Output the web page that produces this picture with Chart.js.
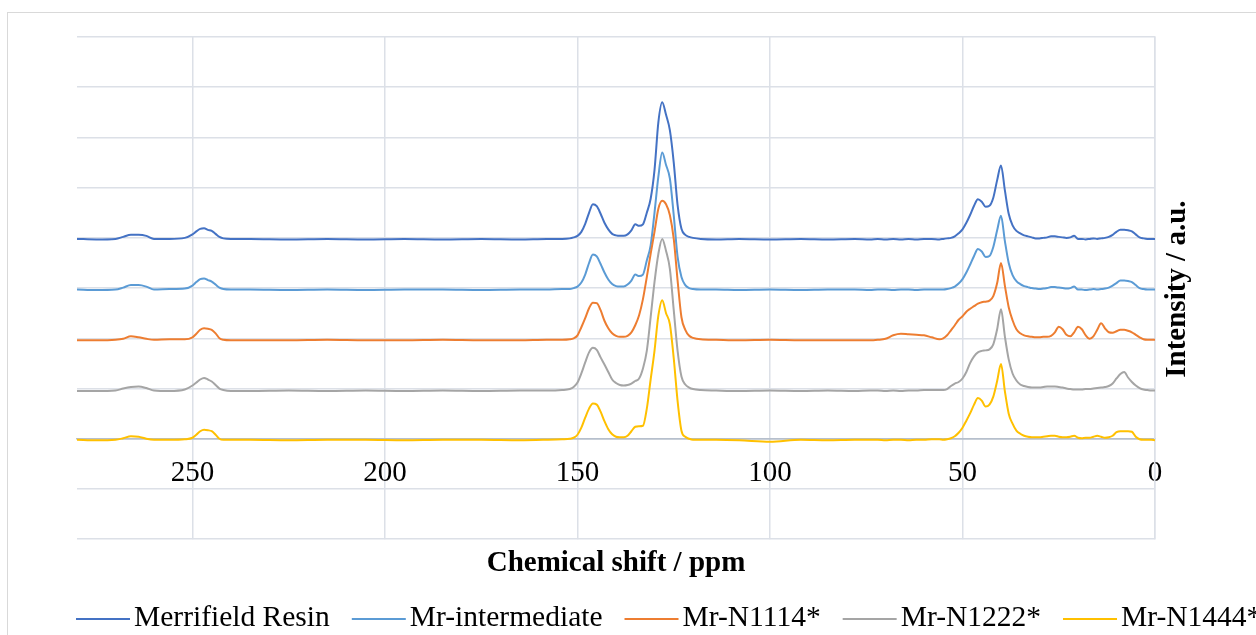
<!DOCTYPE html>
<html>
<head>
<meta charset="utf-8">
<script src="https://cdn.jsdelivr.net/npm/chart.js@4.4.0/dist/chart.umd.min.js"></script>
<style>
  body { margin: 0; background: #fff; }
  canvas { display: block; }
</style>
</head>
<body>
<canvas id="nmrChart" width="1256" height="635"></canvas>
<script>
// chemical shift grid (ppm), shared by all five spectra
const shifts = [
  280, 275, 270, 268, 266, 264, 262, 260, 256, 252, 250, 249, 248, 247, 246, 245, 244, 243, 242, 240,
  235, 225, 215, 205, 195, 185, 175, 165, 158, 154,
  152, 151, 150, 149, 148, 147, 146, 145, 144, 143, 142, 141, 140, 139, 138, 137, 136, 135, 134, 133,
  132, 131, 130, 129, 128, 127, 126, 125, 124, 123, 122, 121, 120, 118,
  114, 108, 100, 92, 85, 78, 74, 72, 70, 68, 66, 64, 62, 60, 58, 56,
  55, 54, 53, 52, 51, 50, 49, 48, 47, 46, 45, 44, 43, 42, 41, 40, 39, 38, 37, 36,
  35, 34, 33, 32, 31, 30, 29, 28, 27, 26, 25, 24, 23, 22, 21, 20, 19, 18, 17, 16,
  15, 14, 13, 12, 11, 10, 9, 8, 7, 6, 5, 4, 3, 2, 1, 0
];

const merrifieldResin = [
  3.98, 3.97, 3.98, 4.02, 4.06, 4.06, 4.04, 3.98, 3.98, 4.00, 4.07, 4.13, 4.18, 4.19, 4.16, 4.14, 4.08, 4.02, 3.99, 3.98,
  3.98, 3.97, 3.98, 3.97, 3.98, 3.97, 3.98, 3.97, 3.98, 3.98,
  3.99, 4.01, 4.04, 4.12, 4.28, 4.50, 4.67, 4.63, 4.48, 4.30, 4.17, 4.08, 4.05, 4.04, 4.04, 4.07, 4.15, 4.27, 4.24, 4.27,
  4.50, 4.78, 5.35, 6.30, 6.70, 6.45, 6.14, 5.50, 4.65, 4.18, 4.06, 4.02, 4.00, 3.98,
  3.97, 3.98, 3.97, 3.98, 3.97, 3.98, 3.97, 3.98, 3.97, 3.98, 3.97, 3.98, 3.97, 3.98, 3.98, 3.97,
  3.98, 3.99, 4.00, 4.03, 4.09, 4.17, 4.30, 4.46, 4.64, 4.77, 4.72, 4.62, 4.64, 4.80, 5.15, 5.44, 4.95, 4.48, 4.25, 4.14,
  4.09, 4.05, 4.03, 4.01, 3.99, 3.99, 4.00, 4.01, 4.03, 4.03, 4.02, 4.01, 4.00, 4.01, 4.04, 3.98, 3.98, 3.97, 3.98, 3.99,
  3.98, 3.99, 4.00, 4.02, 4.06, 4.12, 4.16, 4.16, 4.15, 4.13, 4.07, 4.01, 3.99, 3.98, 3.98, 3.98
];

const mrIntermediate = [
  2.97, 2.96, 2.97, 3.01, 3.06, 3.06, 3.03, 2.97, 2.98, 2.99, 3.05, 3.12, 3.18, 3.19, 3.16, 3.13, 3.07, 3.01, 2.98, 2.97,
  2.97, 2.96, 2.97, 2.96, 2.97, 2.97, 2.96, 2.97, 2.97, 2.98,
  2.98, 3.00, 3.03, 3.11, 3.27, 3.50, 3.67, 3.63, 3.48, 3.31, 3.17, 3.08, 3.04, 3.03, 3.03, 3.07, 3.15, 3.27, 3.24, 3.27,
  3.55, 3.85, 4.50, 5.22, 5.70, 5.45, 5.18, 4.45, 3.62, 3.22, 3.06, 3.00, 2.98, 2.97,
  2.97, 2.96, 2.97, 2.96, 2.97, 2.97, 2.96, 2.97, 2.97, 2.96, 2.97, 2.97, 2.96, 2.97, 2.97, 2.97,
  2.97, 2.98, 3.00, 3.03, 3.09, 3.18, 3.31, 3.47, 3.64, 3.78, 3.73, 3.62, 3.64, 3.82, 4.15, 4.44, 3.94, 3.50, 3.26, 3.14,
  3.08, 3.04, 3.02, 3.00, 2.99, 2.98, 2.99, 3.00, 3.02, 3.02, 3.01, 3.00, 2.99, 3.00, 3.03, 2.97, 2.97, 2.96, 2.97, 2.98,
  2.97, 2.98, 2.99, 3.01, 3.05, 3.10, 3.15, 3.15, 3.14, 3.12, 3.06, 3.00, 2.98, 2.97, 2.97, 2.97
];

const mrN1114 = [
  1.96, 1.96, 1.97, 1.99, 2.04, 2.02, 1.99, 1.97, 1.98, 1.98, 2.02, 2.09, 2.17, 2.20, 2.19, 2.17, 2.10, 2.00, 1.97, 1.96,
  1.96, 1.96, 1.97, 1.96, 1.96, 1.97, 1.96, 1.96, 1.97, 1.97,
  1.98, 2.00, 2.06, 2.22, 2.40, 2.60, 2.71, 2.70, 2.56, 2.35, 2.20, 2.10, 2.05, 2.03, 2.03, 2.05, 2.12, 2.26, 2.46, 2.78,
  3.22, 3.68, 4.12, 4.58, 4.74, 4.67, 4.45, 3.98, 3.15, 2.42, 2.17, 2.05, 2.01, 1.98,
  1.97, 1.96, 1.97, 1.96, 1.96, 1.96, 1.96, 1.97, 1.99, 2.06, 2.09, 2.08, 2.07, 2.06, 2.02, 1.98,
  2.00, 2.06, 2.16, 2.26, 2.37, 2.44, 2.53, 2.59, 2.64, 2.69, 2.72, 2.73, 2.75, 2.84, 3.10, 3.50, 3.05, 2.62, 2.36, 2.18,
  2.10, 2.06, 2.04, 2.03, 2.02, 2.02, 2.03, 2.03, 2.05, 2.12, 2.23, 2.18, 2.07, 2.04, 2.12, 2.23, 2.18, 2.06, 1.99, 2.04,
  2.17, 2.30, 2.20, 2.12, 2.11, 2.14, 2.17, 2.17, 2.15, 2.12, 2.07, 2.02, 1.98, 1.97, 1.97, 1.97
];

const mrN1222 = [
  0.95, 0.95, 0.96, 1.00, 1.03, 1.04, 1.01, 0.96, 0.95, 0.98, 1.06, 1.12, 1.18, 1.21, 1.18, 1.14, 1.07, 1.00, 0.97, 0.95,
  0.95, 0.96, 0.95, 0.96, 0.95, 0.96, 0.95, 0.96, 0.96, 0.97,
  0.99, 1.03, 1.12, 1.30, 1.52, 1.72, 1.81, 1.77, 1.62, 1.48, 1.33, 1.18, 1.11, 1.07, 1.06, 1.07, 1.10, 1.15, 1.20, 1.40,
  1.75, 2.42, 3.12, 3.68, 3.98, 3.74, 3.38, 2.56, 1.75, 1.24, 1.08, 1.02, 0.99, 0.97,
  0.96, 0.95, 0.96, 0.95, 0.96, 0.95, 0.96, 0.96, 0.95, 0.96, 0.95, 0.96, 0.96, 0.97, 0.97, 0.97,
  0.97, 0.99, 1.05, 1.10, 1.13, 1.20, 1.33, 1.51, 1.64, 1.72, 1.75, 1.76, 1.78, 1.88, 2.18, 2.58, 2.04, 1.58, 1.30, 1.16,
  1.08, 1.05, 1.03, 1.02, 1.02, 1.02, 1.03, 1.04, 1.04, 1.04, 1.03, 1.02, 1.00, 0.99, 0.98, 0.98, 0.98, 0.99, 0.99, 1.00,
  1.01, 1.02, 1.03, 1.05, 1.10, 1.20, 1.29, 1.33, 1.22, 1.13, 1.06, 1.01, 0.98, 0.97, 0.96, 0.96
];

const mrN1444 = [
  -0.02, -0.03, -0.02, 0.01, 0.05, 0.04, 0.00, -0.02, -0.02, -0.01, 0.02, 0.08, 0.15, 0.18, 0.17, 0.15, 0.08, 0.00, -0.02, -0.02,
  -0.02, -0.03, -0.02, -0.02, -0.03, -0.02, -0.02, -0.03, -0.02, -0.01,
  0.00, 0.02, 0.08, 0.22, 0.42, 0.60, 0.70, 0.68, 0.54, 0.35, 0.19, 0.09, 0.04, 0.03, 0.03, 0.06, 0.15, 0.24, 0.25, 0.26,
  0.60, 1.18, 1.75, 2.45, 2.76, 2.50, 2.28, 1.60, 0.75, 0.16, 0.04, 0.00, -0.02, -0.02,
  -0.02, -0.03, -0.06, -0.02, -0.03, -0.02, -0.02, -0.02, -0.03, -0.02, -0.02, -0.03, -0.02, -0.02, -0.01, -0.01,
  -0.02, -0.01, 0.01, 0.05, 0.12, 0.22, 0.36, 0.51, 0.68, 0.81, 0.76, 0.64, 0.68, 0.84, 1.15, 1.49, 0.95, 0.50, 0.30, 0.16,
  0.10, 0.06, 0.04, 0.03, 0.03, 0.03, 0.04, 0.05, 0.06, 0.06, 0.04, 0.03, 0.03, 0.04, 0.06, 0.02, 0.01, 0.02, 0.02, 0.04,
  0.06, 0.04, 0.02, 0.03, 0.06, 0.13, 0.15, 0.15, 0.15, 0.14, 0.04, -0.01, -0.02, -0.02, -0.02, -0.03
];

const seriesNames = ["Merrifield Resin", "Mr-intermediate", "Mr-N1114*", "Mr-N1222*", "Mr-N1444*"];
const seriesValues = [merrifieldResin, mrIntermediate, mrN1114, mrN1222, mrN1444];
const seriesColors = ["#4472C4", "#5B9BD5", "#ED7D31", "#A5A5A5", "#FFC000"];
const shiftTicks = [0, 50, 100, 150, 200, 250];

const serif = "'Liberation Serif', 'Times New Roman', serif";
const gridColor = "#dce0e7";
const axisColor = "#b6bfcc";

Chart.defaults.font.family = serif;
Chart.defaults.color = "#000";

// light outer frame of the chart object
const chartFrame = {
  id: "chartFrame",
  beforeDraw(chart) {
    const ctx = chart.ctx;
    ctx.save();
    ctx.fillStyle = "#fff";
    ctx.fillRect(0, 0, chart.width, chart.height);
    ctx.strokeStyle = "#d9d9d9";
    ctx.lineWidth = 1;
    ctx.strokeRect(7.5, 12.5, chart.width + 20, chart.height + 20);
    ctx.restore();
  },
};

// value axis title, reads bottom to top on the right side
const intensityTitle = {
  id: "intensityTitle",
  afterDraw(chart) {
    const { ctx, chartArea } = chart;
    ctx.save();
    ctx.translate(chartArea.right + 23, (chartArea.top + chartArea.bottom) / 2 + 1);
    ctx.rotate(-Math.PI / 2);
    ctx.font = "bold 29px " + serif;
    ctx.fillStyle = "#000";
    ctx.textAlign = "center";
    ctx.textBaseline = "middle";
    ctx.fillText("Intensity / a.u.", 0, 0);
    ctx.restore();
  },
};

// legend row along the bottom, lines then names
const lineLegend = {
  id: "lineLegend",
  afterDraw(chart) {
    const ctx = chart.ctx;
    let x = chart.chartArea.left - 1;
    const y = 619;
    ctx.save();
    ctx.font = "29.5px " + serif;
    ctx.textBaseline = "middle";
    chart.data.datasets.forEach((ds) => {
      ctx.strokeStyle = ds.borderColor;
      ctx.lineWidth = 2;
      ctx.beginPath();
      ctx.moveTo(x, y);
      ctx.lineTo(x + 54, y);
      ctx.stroke();
      ctx.fillStyle = "#000";
      ctx.fillText(ds.label, x + 58, y - 0.5);
      x += 58 + ctx.measureText(ds.label).width + 22;
    });
    ctx.restore();
  },
};

const datasets = seriesNames.map((name, i) => ({
  label: name,
  data: shifts.map((s, j) => ({ x: s, y: seriesValues[i][j] })),
  borderColor: seriesColors[i],
  backgroundColor: seriesColors[i],
  borderWidth: 2,
  pointRadius: 0,
  cubicInterpolationMode: "monotone",
  order: seriesNames.length - i,
}));

const ctx = document.getElementById("nmrChart").getContext("2d");
const nmrChart = new Chart(ctx, {
  type: "line",
  data: { datasets: datasets },
  options: {
    responsive: false,
    animation: false,
    devicePixelRatio: 1,
    layout: {
      padding: { left: 77, top: 37, right: 0, bottom: 54 },
    },
    plugins: {
      legend: { display: false },
      tooltip: { enabled: false },
      title: {
        display: true,
        position: "bottom",
        fullSize: false,
        text: "Chemical shift / ppm",
        color: "#000",
        font: { family: serif, size: 29, weight: "bold" },
        padding: { top: 7, bottom: 0 },
      },
    },
    scales: {
      x: {
        type: "linear",
        min: 0,
        max: 280,
        reverse: true,
        position: { y: 0 },
        afterBuildTicks: (scale) => {
          scale.ticks = shiftTicks.map((v) => ({ value: v }));
        },
        ticks: {
          font: { size: 29 },
          color: "#000",
          padding: 17,
          maxRotation: 0,
          autoSkip: false,
        },
        grid: { color: gridColor, lineWidth: 1.5, drawTicks: false },
        border: { color: axisColor, width: 1.5 },
      },
      y: {
        type: "linear",
        position: "right",
        min: -2,
        max: 8,
        ticks: { stepSize: 1, display: false },
        grid: {
          color: (c) => (c.tick && c.tick.value === 0 ? axisColor : gridColor),
          lineWidth: 1.5,
          drawTicks: false,
        },
        border: { color: gridColor, width: 1.5 },
        afterFit: (scale) => {
          scale.width = 101;
        },
      },
    },
  },
  plugins: [chartFrame, intensityTitle, lineLegend],
});
</script>
</body>
</html>
